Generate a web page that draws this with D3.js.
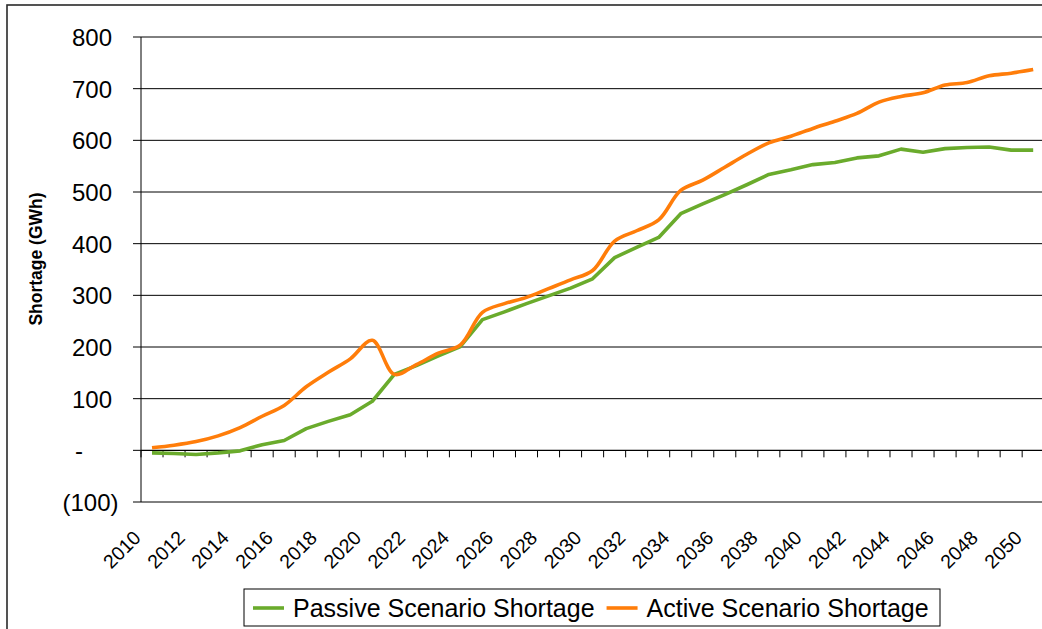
<!DOCTYPE html>
<html><head><meta charset="utf-8">
<script src="https://cdn.jsdelivr.net/npm/d3@7"></script>
<style>body{margin:0;background:#fff;overflow:hidden}</style>
</head><body>
<svg id="c" width="1042" height="629"></svg>
<script>
const years = [2010,2011,2012,2013,2014,2015,2016,2017,2018,2019,2020,2021,2022,2023,2024,2025,2026,2027,2028,2029,2030,2031,2032,2033,2034,2035,2036,2037,2038,2039,2040,2041,2042,2043,2044,2045,2046,2047,2048,2049,2050];
const passive = [-5,-6,-8,-5,-1,11,19,42,56,69,95,147,164,183,201,253,268,284,299,314,332,373,393,412,458,477,495,514,534,543,553,557,566,570,583,577,584,586,587,581,581];
const active = [5,10,17,28,44,66,87,123,151,177,213,147,166,188,204,267,284,296,313,330,348,405,425,446,503,523,548,573,595,608,623,637,652,674,685,692,707,712,725,730,737];
const yTicks = [-100,0,100,200,300,400,500,600,700,800];
const xLabelYears = [2010,2012,2014,2016,2018,2020,2022,2024,2026,2028,2030,2032,2034,2036,2038,2040,2042,2044,2046,2048,2050];
const seriesNames = ["Passive Scenario Shortage","Active Scenario Shortage"];
const seriesColors = ["#6aab2c","#ff7d0a"];

const FONT = "'Liberation Sans', Arial, sans-serif";
const svg = d3.select("#c");
const P = {left:141, top:37, bottom:502, right:1044.2};

const x = d3.scaleBand().domain(years).range([P.left, P.right]).padding(0);
const cx = d => x(d) + x.bandwidth()/2;
const y = d3.scaleLinear().domain([-100,800]).range([P.bottom, P.top]);

// outer border
svg.append("rect").attr("x",7).attr("y",5).attr("width",1200).attr("height",800)
  .attr("fill","none").attr("stroke","#2a2a2a").attr("stroke-width",1.6);

// gridlines
svg.append("g").selectAll("line").data(yTicks.filter(t=>t!==0)).join("line")
  .attr("x1",P.left).attr("x2",P.right).attr("y1",d=>y(d)).attr("y2",d=>y(d))
  .attr("stroke","#000").attr("stroke-width",1);

// y axis
svg.append("line").attr("x1",P.left).attr("x2",P.left).attr("y1",P.top).attr("y2",P.bottom)
  .attr("stroke","#000").attr("stroke-width",1);
svg.append("g").selectAll("line").data(yTicks).join("line")
  .attr("x1",P.left-8).attr("x2",P.left).attr("y1",d=>y(d)).attr("y2",d=>y(d))
  .attr("stroke","#000").attr("stroke-width",1);

// y tick labels (accounting format)
const fmt = d => d===0 ? "-" : (d<0 ? "("+Math.abs(d)+")" : String(d));
svg.append("g").selectAll("text").data(yTicks).join("text")
  .attr("x",d=> d===0 ? 79 : (d<0 ? 118.5 : 112))
  .attr("y",d=>y(d)+9)
  .attr("text-anchor",d=> d===0 ? "middle" : "end")
  .attr("font-family",FONT).attr("font-size",24).attr("fill","#000")
  .text(fmt);

// zero line (category axis)
svg.append("line").attr("x1",P.left).attr("x2",P.right).attr("y1",y(0)).attr("y2",y(0))
  .attr("stroke","#000").attr("stroke-width",1.2);
const bounds = years.map(d=>x(d)).concat([P.right]);
svg.append("g").selectAll("line").data(bounds).join("line")
  .attr("x1",d=>d).attr("x2",d=>d).attr("y1",y(0)).attr("y2",y(0)+7)
  .attr("stroke","#000").attr("stroke-width",1);

// x labels
svg.append("g").selectAll("text").data(xLabelYears).join("text")
  .attr("transform",d=>`translate(${cx(d)-10},539) rotate(-45)`)
  .attr("text-anchor","end")
  .attr("font-family",FONT).attr("font-size",19.5).attr("fill","#000")
  .text(d=>d);

// y title
svg.append("text").attr("transform","translate(42,259) rotate(-90)")
  .attr("text-anchor","middle").attr("font-family",FONT).attr("font-size",17.5)
  .attr("font-weight","bold").text("Shortage (GWh)");

// lines
const linePassive = d3.line().x((d,i)=>cx(years[i])).y(d=>y(d)).curve(d3.curveLinear);
const lineActive = d3.line().x((d,i)=>cx(years[i])).y(d=>y(d)).curve(d3.curveCatmullRom.alpha(0.5));
svg.append("path").attr("d",linePassive(passive)).attr("fill","none")
  .attr("stroke",seriesColors[0]).attr("stroke-width",3.6).attr("stroke-linejoin","round");
svg.append("path").attr("d",lineActive(active)).attr("fill","none")
  .attr("stroke",seriesColors[1]).attr("stroke-width",3.6).attr("stroke-linejoin","round");

// legend
const lg = svg.append("g");
lg.append("rect").attr("x",244).attr("y",589).attr("width",696).attr("height",37)
  .attr("fill","#fff").attr("stroke","#000").attr("stroke-width",1);
let lx = 253;
seriesNames.forEach((name,i)=>{
  lg.append("line").attr("x1",lx).attr("x2",lx+31).attr("y1",608).attr("y2",608)
    .attr("stroke",seriesColors[i]).attr("stroke-width",3.6);
  const t = lg.append("text").attr("x",lx+40).attr("y",617)
    .attr("font-family",FONT).attr("font-size",25).attr("fill","#000").text(name);
  lx = lx + 40 + t.node().getComputedTextLength() + 12;
});
</script>
</body></html>
